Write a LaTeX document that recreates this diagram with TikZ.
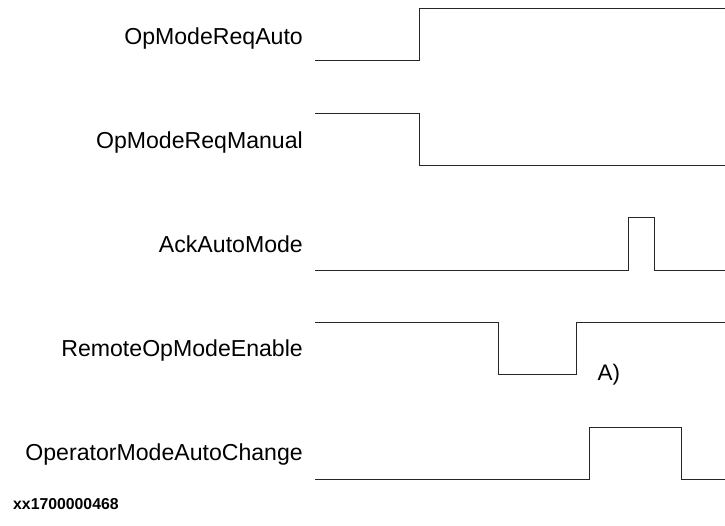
\documentclass[tikz,border=0pt]{standalone}
\usepackage{fontspec}
\setmainfont{Liberation Sans}
\begin{document}
\begin{tikzpicture}[x=1pt,y=-1pt,
  sig/.style={draw=black!85, line width=1pt, line join=miter},
  lbl/.style={anchor=base east, inner sep=0pt, font=\fontsize{23.1}{27}\selectfont},
  note/.style={anchor=base west, inner sep=0pt, font=\fontsize{22.5}{27}\selectfont},
  ref/.style={anchor=base west, inner sep=0pt, font=\fontsize{15.8}{18}\selectfont\bfseries}]
\useasboundingbox (0,0) rectangle (725,526);
% labels
\node[lbl] (l1) at (303,44.5) {OpModeReqAuto};
\node[lbl] (l2) at (303,148.5) {OpModeReqManual};
\node[lbl] (l3) at (303,252.5) {AckAutoMode};
\node[lbl] (l4) at (303,356) {RemoteOpModeEnable};
\node[lbl] (l5) at (303,460) {OperatorModeAutoChange};
\node[note] (a) at (597.5,380) {A)};
\node[ref] (id) at (13,509) {xx1700000468};
% signals
\draw[sig] (315,61) -- (419.5,61) -- (419.5,9) -- (725,9);
\draw[sig] (315,113.5) -- (419.5,113.5) -- (419.5,165.5) -- (725,165.5);
\draw[sig] (315,270.5) -- (628.5,270.5) -- (628.5,218) -- (654.5,218) -- (654.5,270.5) -- (725,270.5);
\draw[sig] (315,322.5) -- (498,322.5) -- (498,374.5) -- (576.5,374.5) -- (576.5,322.5) -- (725,322.5);
\draw[sig] (315,479) -- (589.5,479) -- (589.5,427.5) -- (681,427.5) -- (681,479) -- (725,479);
\end{tikzpicture}
\end{document}
